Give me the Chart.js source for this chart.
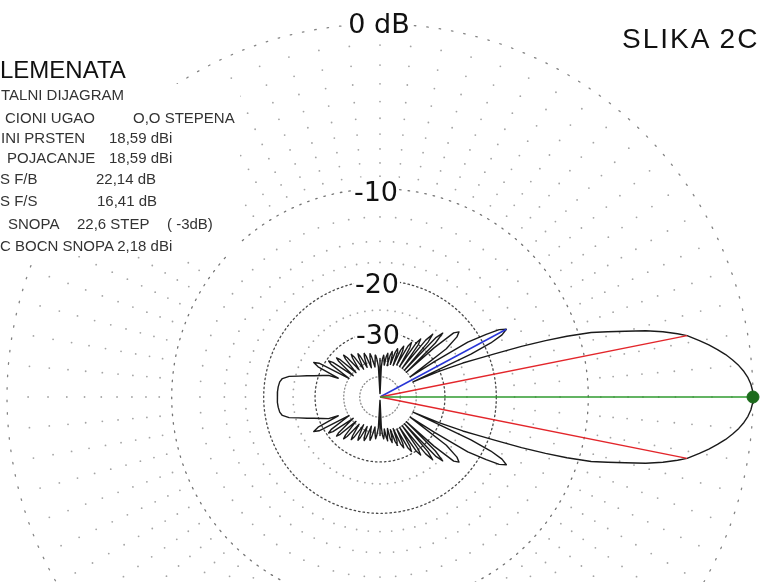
<!DOCTYPE html>
<html>
<head>
<meta charset="utf-8">
<script src="https://cdn.jsdelivr.net/npm/chart.js@4.4.1/dist/chart.umd.min.js"></script>
<style>
  html, body { margin: 0; padding: 0; background: #fff; }
  #wrap { position: relative; width: 763px; height: 582px; overflow: hidden; }
  #plot { position: absolute; left: 0; top: 0; }
  .ring-lbl {
    position: absolute; transform: translate(-50%, -50%);
    font-family: "DejaVu Sans", sans-serif; font-size: 27px; line-height: 1;
    color: #111; background: #fff; padding: 0 1px; white-space: nowrap;
  }
  .title {
    position: absolute; left: 622px; top: 25px;
    font-family: "Liberation Sans", Arial, sans-serif; font-size: 28px; line-height: 1;
    letter-spacing: 2px; color: #111; white-space: nowrap;
  }
  .blank { position: absolute; background: #fff; }
  .info {
    position: absolute; font-family: "Liberation Sans", Arial, sans-serif;
    font-size: 15px; line-height: 1; color: #333; white-space: nowrap;
  }
</style>
</head>
<body>
<div id="wrap">
  <canvas id="plot" width="763" height="582"></canvas>

  <div class="ring-lbl" style="left:379px; top:23px;">0 dB</div>
  <div class="ring-lbl" style="left:376px; top:191px;">-10</div>
  <div class="ring-lbl" style="left:377px; top:283px;">-20</div>
  <div class="ring-lbl" style="left:378px; top:334px;">-30</div>

  <div class="title">SLIKA 2C</div>

  <!-- text block on the left (cut at the picture edge) -->
  <div class="blank" style="left:0; top:58px; width:136px; height:26px;"></div>
  <div class="blank" style="left:0; top:84px; width:240px; height:172px;"></div>
  <div class="info" style="left:0; top:58px; font-size:24px; color:#111;">LEMENATA</div>
  <div class="info" style="left:1px; top:87px;">TALNI DIJAGRAM</div>
  <div class="info" style="left:5px; top:110px;">CIONI UGAO</div>
  <div class="info" style="left:133px; top:110px;">O,O STEPENA</div>
  <div class="info" style="left:1px; top:130px;">INI PRSTEN</div>
  <div class="info" style="left:109px; top:130px;">18,59 dBi</div>
  <div class="info" style="left:7px; top:150px;">POJACANJE</div>
  <div class="info" style="left:109px; top:150px;">18,59 dBi</div>
  <div class="info" style="left:0; top:171px;">S F/B</div>
  <div class="info" style="left:96px; top:171px;">22,14 dB</div>
  <div class="info" style="left:0; top:193px;">S F/S</div>
  <div class="info" style="left:97px; top:193px;">16,41 dB</div>
  <div class="info" style="left:8px; top:216px;">SNOPA</div>
  <div class="info" style="left:77px; top:216px;">22,6 STEP</div>
  <div class="info" style="left:167px; top:216px;">( -3dB)</div>
  <div class="info" style="left:0; top:238px;">C BOCN SNOPA 2,18 dBi</div>
</div>

<script>
/* ── azimuth pattern, upper half 0..180 deg, dB below the 18,59 dBi maximum ── */
// main lobe
const mainAngles = [0, 1, 2, 3, 4, 5, 6, 7, 8, 9, 10, 11.3, 12, 13, 14, 15, 16, 17, 18,
  18.8, 19.7, 20.6, 21.5, 22.3, 23.5, 24.5];
const mainDb = [0, -0.02, -0.09, -0.21, -0.38, -0.6, -0.87, -1.18, -1.55, -1.95, -2.4, -3.0,
  -3.5, -4.3, -5.3, -6.6, -7.8, -9.0, -11, -13, -15.6, -19, -22, -24.5, -30, -40];

// side lobes 25..90 deg
const sideAngles = [25.2, 26, 27, 28.2, 29.5, 30.5, 32, 33, 33.7,
  36, 38, 39.5, 41, 42.3, 43.2, 44.3, 45.5, 46.7, 47.6, 48.8, 50, 51.2, 52.3,
  53.8, 55, 56.2, 57.3, 58.8, 60, 61.2, 62.3, 63.8, 65, 66.2, 67.4,
  68.8, 70, 71.2, 72.4, 73.8, 75, 76.2, 77.4, 78.8, 80, 81.2, 82.4, 83.8, 85, 86.2, 87.5,
  89, 90, 91];
const sideDb = [-22.5, -19, -17.2, -16.41, -17.2, -19, -22, -30, -40,
  -26, -23, -22.2, -23, -28, -40, -27, -24.5, -26, -40, -28, -26, -28, -40,
  -30, -28.5, -30, -40, -32, -30.5, -32, -40, -34, -32.5, -34, -41,
  -35.5, -34, -35.5, -41, -37, -35.5, -37, -42, -38, -36.5, -38, -42, -39, -37.5, -39, -43,
  -80, -39, -80];

// rear side lobes 93..157 deg
const rearAngles = [93, 94.8, 96, 97.2, 99.5, 101.8, 103, 104.2, 106.5,
  108.8, 110, 111.2, 113.5, 115.8, 117, 118.2, 120.5, 122.8, 124, 125.2, 127.5,
  129.8, 131, 132.2, 134.5, 136.8, 138, 139.2, 141.5, 143.6, 145, 146.4, 149,
  151, 152.5, 154, 155.8];
const rearDb = [-43, -39, -37.5, -39, -43, -38, -36.5, -38, -43,
  -37, -35.8, -37, -42, -36.3, -35, -36.3, -42, -35.3, -34, -35.3, -41,
  -34, -32.7, -34, -41, -33, -31.8, -33, -41, -31.8, -30.6, -31.8, -40,
  -28.8, -27.6, -29, -36];

// back lobe (F/B 22,14 dB)
const backAngles = [157.2, 159.5, 162.1, 163.8, 165.6, 167.2, 169.3, 171.4, 174.3, 177, 180];
const backDb = [-32.6, -31, -28.9, -27.3, -25.6, -23.8, -22.7, -22.35, -22.2, -22.15, -22.14];

/* marker lines */
const maxAngle = 0;            // maximum, 0 dB
const maxDb = 0;
const halfPowerAngles = [11.3, -11.3];   // 22,6 step beamwidth (-3 dB)
const halfPowerDb = -3;
const sideLobeAngle = 28.2;    // F/S 16,41 dB
const sideLobeDb = -16.41;

/* grid */
const ringLevels = [0, -10, -20, -30, -40, -50];
const spokeStepDeg = 5;
const spokeDotLevels = [-1, -2, -3, -4, -5, -6, -7, -8, -9, -12.5, -15, -17.5, -25];

/* ── ARRL log scale: radius shrinks by 0.89 every 2 dB ── */
const arrl = db => Math.pow(0.89, -db / 2);
const polar = (deg, db) => {
  const r = arrl(db), a = deg * Math.PI / 180;
  return { x: r * Math.cos(a), y: r * Math.sin(a) };
};

const halfAngles = mainAngles.concat(sideAngles, rearAngles, backAngles);
const halfDb = mainDb.concat(sideDb, rearDb, backDb);

// pattern is symmetric about the boresight
const upper = halfAngles.map((a, i) => polar(a, halfDb[i]));
const lower = [];
for (let i = halfAngles.length - 1; i >= 0; i--) lower.push(polar(-halfAngles[i], halfDb[i]));
const patternPts = upper.concat(lower);

const ringStyle = {
  "0":   { color: "rgba(80,80,80,0.7)", dash: [1.5, 11] },
  "-10": { color: "rgba(70,70,70,0.75)", dash: [1.5, 7] },
  "-20": { color: "rgba(40,40,40,0.85)", dash: [1.5, 3] },
  "-30": { color: "rgba(40,40,40,0.85)", dash: [1.5, 3] },
  "-40": { color: "rgba(110,110,110,0.8)", dash: [1, 2.5] },
  "-50": { color: "rgba(110,110,110,0.8)", dash: [1, 2.5] }
};

const ringSets = ringLevels.map(lv => {
  const pts = [];
  for (let d = 0; d <= 360; d += 1) pts.push(polar(d, lv));
  const st = ringStyle[String(lv)];
  return {
    data: pts, showLine: true, pointRadius: 0, borderWidth: 1.3,
    borderColor: st.color, borderDash: st.dash, borderCapStyle: "round", order: 8
  };
});

const dotPts = [];
for (let a = 0; a < 360; a += spokeStepDeg) {
  spokeDotLevels.forEach(lv => dotPts.push(polar(a, lv)));
}

const line = (from, to, color) => ({
  data: [from, to], showLine: true, pointRadius: 0,
  borderColor: color, borderWidth: 1.5, order: 1
});
const centre = { x: 0, y: 0 };

/* canvas pixel layout: centre at (380, 397), 0 dB ring radius 373 px */
const R = 373, CX = 380, CY = 397, W = 763, H = 582;

new Chart(document.getElementById("plot"), {
  type: "scatter",
  data: {
    datasets: [
      { data: [polar(maxAngle, maxDb)], pointRadius: 6, backgroundColor: "#1c6b1c",
        borderColor: "#1c6b1c", order: 0 },
      line(centre, polar(maxAngle, maxDb), "#2f9b2f"),
      line(centre, polar(halfPowerAngles[0], halfPowerDb), "#e3262b"),
      line(centre, polar(halfPowerAngles[1], halfPowerDb), "#e3262b"),
      line(centre, polar(sideLobeAngle, sideLobeDb), "#2835d6"),
      { data: patternPts, showLine: true, pointRadius: 0, borderColor: "#1a1a1a",
        borderWidth: 1.4, borderJoinStyle: "round", order: 2 },
      ...ringSets,
      { data: dotPts, pointRadius: 0.9, borderWidth: 0,
        backgroundColor: "rgba(90,90,90,0.55)", order: 9 }
    ]
  },
  options: {
    responsive: false,
    animation: false,
    events: [],
    layout: { padding: 0, autoPadding: false },
    plugins: { legend: { display: false }, tooltip: { enabled: false } },
    scales: {
      x: { type: "linear", display: false, min: -CX / R, max: (W - CX) / R },
      y: { type: "linear", display: false, min: -(H - CY) / R, max: CY / R }
    }
  }
});
</script>
</body>
</html>
